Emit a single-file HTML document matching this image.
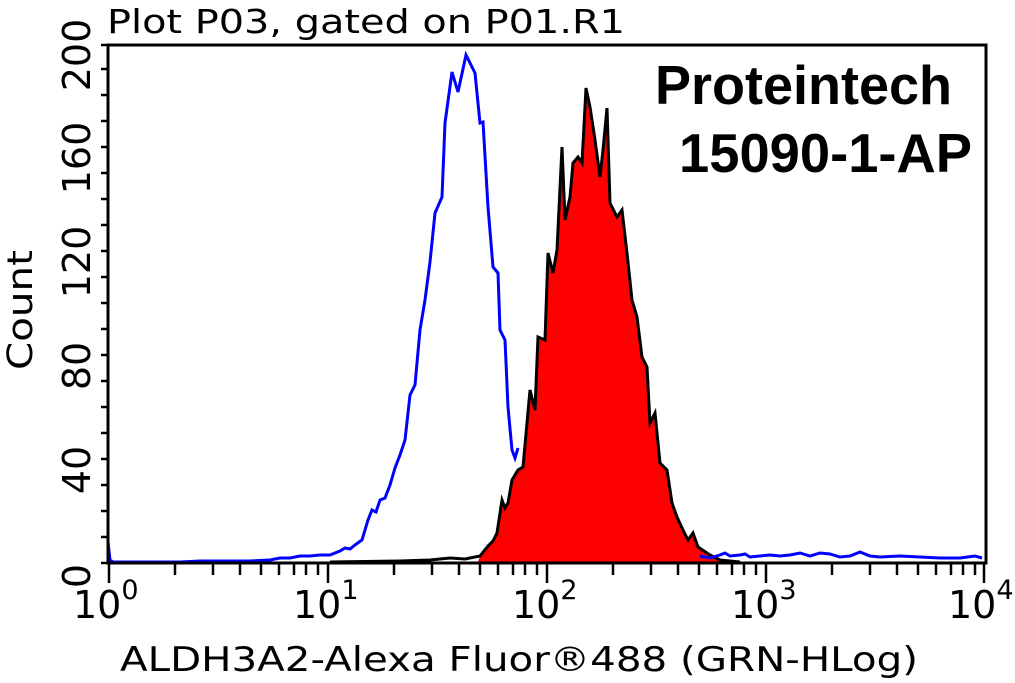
<!DOCTYPE html>
<html><head><meta charset="utf-8"><style>
html,body{margin:0;padding:0;background:#fff;}
svg{display:block;}
text{font-family:"DejaVu Sans","Liberation Sans",sans-serif;fill:#000;}
</style></head><body>
<svg width="1015" height="683" viewBox="0 0 1015 683" xmlns="http://www.w3.org/2000/svg">
<rect width="1015" height="683" fill="#fff"/>
<text x="107" y="33" font-size="33" textLength="518" lengthAdjust="spacingAndGlyphs">Plot P03, gated on P01.R1</text>
<!-- red filled -->
<path d="M478,562 L480,556 488,546 493,541 497,533 502,500 505,508 508,503 512,480 518,470 523,467 530,390 535,410 538,337 545,340 548,253 553,273 557,250 562,147 565,220 570,197 573,163 578,157 582,163 586,88 590,107 595,140 600,177 603,150 607,108 610,203 617,217 622,210 627,253 632,300 637,317 642,357 647,367 650,423 655,413 660,463 667,470 672,503 677,517 683,530 688,540 693,533 698,547 707,553 710,555 720,560 L720,562 Z" fill="#ff0000"/>
<polyline points="330,562 400,561 430,560 450,558 465,559 480,556 488,546 493,541 497,533 502,500 505,508 508,503 512,480 518,470 523,467 530,390 535,410 538,337 545,340 548,253 553,273 557,250 562,147 565,220 570,197 573,163 578,157 582,163 586,88 590,107 595,140 600,177 603,150 607,108 610,203 617,217 622,210 627,253 632,300 637,317 642,357 647,367 650,423 655,413 660,463 667,470 672,503 677,517 683,530 688,540 693,533 698,547 707,553 710,555 720,560 740,562" fill="none" stroke="#000" stroke-width="3"/>
<!-- blue -->
<polyline points="108,542 110,560 113,562 180,562 200,561 250,561 270,560 280,558 290,558 300,556 310,556 320,555 330,555 340,551 345,548 350,549 355,545 362,540 368,520 372,510 376,512 380,500 385,498 390,485 395,468 400,455 405,440 410,395 415,385 420,330 425,300 430,262 435,213 442,197 445,123 452,72 458,92 466,55 475,73 480,123 483,122 488,207 493,267 498,273 500,330 505,340 508,407 512,450 515,458 518,448" fill="none" stroke="#0000ff" stroke-width="3"/>
<polyline points="700,556 710,558 720,555 725,553 730,556 740,555 745,554 750,557 760,556 770,555 780,556 790,555 800,553 810,556 820,553 830,554 840,557 850,556 860,552 870,556 880,557 900,556 920,557 940,558 960,558 975,556 982,558" fill="none" stroke="#0000ff" stroke-width="3"/>
<!-- axes -->
<rect x="108" y="45" width="878" height="518" fill="none" stroke="#000" stroke-width="3"/>
<g stroke="#000" stroke-width="2.5">
<path d="M101,563H108 M101,537H108 M101,511H108 M101,485H108 M101,459H108 M101,433H108 M101,407H108 M101,381H108 M101,355H108 M101,329H108 M101,303H108 M101,277H108 M101,251H108 M101,225H108 M101,199H108 M101,173H108 M101,147H108 M101,121H108 M101,95H108 M101,69H108 M101,45H108"/>
<path d="M109,563V583 M175,563V575 M213,563V575 M240,563V575 M261,563V575 M279,563V575 M294,563V575 M306,563V575 M318,563V575 M328,563V583 M394,563V575 M432,563V575 M459,563V575 M480,563V575 M498,563V575 M513,563V575 M525,563V575 M537,563V575 M547,563V583 M613,563V575 M651,563V575 M678,563V575 M699,563V575 M717,563V575 M732,563V575 M744,563V575 M756,563V575 M766,563V583 M832,563V575 M870,563V575 M897,563V575 M918,563V575 M936,563V575 M951,563V575 M963,563V575 M975,563V575 M984,563V583"/>
</g>
<!-- y labels -->
<g font-size="38">
<text transform="translate(90,576) rotate(-90)" text-anchor="middle">0</text>
<text transform="translate(90,470) rotate(-90)" text-anchor="middle">40</text>
<text transform="translate(90,366) rotate(-90)" text-anchor="middle">80</text>
<text transform="translate(90,262) rotate(-90)" text-anchor="middle">120</text>
<text transform="translate(90,158) rotate(-90)" text-anchor="middle">160</text>
<text transform="translate(90,55) rotate(-90)" text-anchor="middle">200</text>
</g>
<text transform="translate(32,310) rotate(-90)" font-size="35" text-anchor="middle" textLength="120" lengthAdjust="spacingAndGlyphs">Count</text>
<!-- x labels -->
<g font-size="38">
<text x="73" y="618">10<tspan font-size="27" dy="-19">0</tspan></text>
<text x="293" y="618">10<tspan font-size="27" dy="-19">1</tspan></text>
<text x="512" y="618">10<tspan font-size="27" dy="-19">2</tspan></text>
<text x="731" y="618">10<tspan font-size="27" dy="-19">3</tspan></text>
<text x="948" y="618">10<tspan font-size="27" dy="-19">4</tspan></text>
</g>
<text x="120" y="671" font-size="34" textLength="798" lengthAdjust="spacingAndGlyphs">ALDH3A2-Alexa Fluor®488 (GRN-HLog)</text>
<text x="655" y="104" font-size="55" font-weight="bold" style="font-family:'Liberation Sans',sans-serif" textLength="297" lengthAdjust="spacingAndGlyphs">Proteintech</text>
<text x="679" y="172" font-size="55" font-weight="bold" style="font-family:'Liberation Sans',sans-serif" textLength="293" lengthAdjust="spacingAndGlyphs">15090-1-AP</text>
</svg>
</body></html>
